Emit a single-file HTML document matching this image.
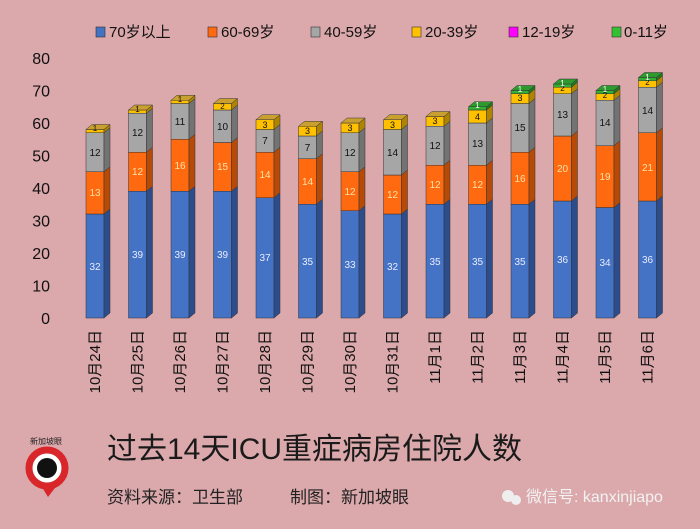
<!DOCTYPE html>
<html><head><meta charset="utf-8"><style>
html,body{margin:0;padding:0;background:#dba8ab}
svg{display:block}
text{font-family:"Liberation Sans","Noto Sans CJK SC",sans-serif}
</style></head><body>
<svg width="700" height="529" viewBox="0 0 700 529" xmlns="http://www.w3.org/2000/svg">
<rect width="700" height="529" fill="#dba8ab"/>
<!-- legend -->
<g font-size="15" fill="#111">
<rect x="96" y="27" width="9" height="10" fill="#4472c4" stroke="#333" stroke-width=".6"/><text x="109" y="37">70岁以上</text>
<rect x="208" y="27" width="9" height="10" fill="#ff6a10" stroke="#333" stroke-width=".6"/><text x="221" y="37">60-69岁</text>
<rect x="311" y="27" width="9" height="10" fill="#a6a6a6" stroke="#333" stroke-width=".6"/><text x="324" y="37">40-59岁</text>
<rect x="412" y="27" width="9" height="10" fill="#ffc000" stroke="#333" stroke-width=".6"/><text x="425" y="37">20-39岁</text>
<rect x="509" y="27" width="9" height="10" fill="#ff00ff" stroke="#333" stroke-width=".6"/><text x="522" y="37">12-19岁</text>
<rect x="612" y="27" width="9" height="10" fill="#33c033" stroke="#333" stroke-width=".6"/><text x="624" y="37">0-11岁</text>
</g>
<!-- y axis labels -->
<g font-size="16" fill="#111" text-anchor="end">
<text x="50" y="324">0</text><text x="50" y="291.5">10</text><text x="50" y="259">20</text><text x="50" y="226.5">30</text><text x="50" y="194">40</text><text x="50" y="161.5">50</text><text x="50" y="129">60</text><text x="50" y="96.5">70</text><text x="50" y="64">80</text>
</g>
<!-- x labels -->
<g font-size="15" fill="#111" text-anchor="end">
<text transform="translate(100,330) rotate(-90)">10月24日</text>
<text transform="translate(142.5,330) rotate(-90)">10月25日</text>
<text transform="translate(185,330) rotate(-90)">10月26日</text>
<text transform="translate(227.5,330) rotate(-90)">10月27日</text>
<text transform="translate(270,330) rotate(-90)">10月28日</text>
<text transform="translate(312.5,330) rotate(-90)">10月29日</text>
<text transform="translate(355,330) rotate(-90)">10月30日</text>
<text transform="translate(397.5,330) rotate(-90)">10月31日</text>
<text transform="translate(440,330) rotate(-90)">11月1日</text>
<text transform="translate(482.5,330) rotate(-90)">11月2日</text>
<text transform="translate(525,330) rotate(-90)">11月3日</text>
<text transform="translate(567.5,330) rotate(-90)">11月4日</text>
<text transform="translate(610,330) rotate(-90)">11月5日</text>
<text transform="translate(652.5,330) rotate(-90)">11月6日</text>
</g>
<!-- bars -->
<g stroke="#333" stroke-width=".5" font-size="10" text-anchor="middle">
<g transform="translate(86,0)">
<rect x="0" y="214" width="18" height="104" fill="#4472c4"/><polygon points="18,318 24,313 24,209 18,214" fill="#2c4c8c"/>
<rect x="0" y="171.75" width="18" height="42.25" fill="#ff6a10"/><polygon points="18,214 24,209 24,166.75 18,171.75" fill="#b84a08"/>
<rect x="0" y="132.75" width="18" height="39" fill="#a6a6a6"/><polygon points="18,171.75 24,166.75 24,127.75 18,132.75" fill="#737373"/>
<rect x="0" y="129.5" width="18" height="3.25" fill="#ffc000"/><polygon points="18,132.75 24,127.75 24,124.5 18,129.5" fill="#b08400"/>
<polygon points="0,129.5 6,124.5 24,124.5 18,129.5" fill="#c9a030"/>
<g stroke="none"><text x="9" y="270" fill="#e8ecff">32</text><text x="9" y="196" fill="#ffe2a8">13</text><text x="9" y="156" fill="#111">12</text><text x="9" y="131" fill="#111" font-size="8">1</text></g>
</g>
<g transform="translate(128.5,0)">
<rect x="0" y="191.25" width="18" height="126.75" fill="#4472c4"/><polygon points="18,318 24,313 24,186.25 18,191.25" fill="#2c4c8c"/>
<rect x="0" y="152.25" width="18" height="39" fill="#ff6a10"/><polygon points="18,191.25 24,186.25 24,147.25 18,152.25" fill="#b84a08"/>
<rect x="0" y="113.25" width="18" height="39" fill="#a6a6a6"/><polygon points="18,152.25 24,147.25 24,108.25 18,113.25" fill="#737373"/>
<rect x="0" y="110" width="18" height="3.25" fill="#ffc000"/><polygon points="18,113.25 24,108.25 24,105 18,110" fill="#b08400"/>
<polygon points="0,110 6,105 24,105 18,110" fill="#c9a030"/>
<g stroke="none"><text x="9" y="258" fill="#e8ecff">39</text><text x="9" y="175" fill="#ffe2a8">12</text><text x="9" y="136" fill="#111">12</text><text x="9" y="112" fill="#111" font-size="8">1</text></g>
</g>
<g transform="translate(171,0)">
<rect x="0" y="191.25" width="18" height="126.75" fill="#4472c4"/><polygon points="18,318 24,313 24,186.25 18,191.25" fill="#2c4c8c"/>
<rect x="0" y="139.25" width="18" height="52" fill="#ff6a10"/><polygon points="18,191.25 24,186.25 24,134.25 18,139.25" fill="#b84a08"/>
<rect x="0" y="103.5" width="18" height="35.75" fill="#a6a6a6"/><polygon points="18,139.25 24,134.25 24,98.5 18,103.5" fill="#737373"/>
<rect x="0" y="100.25" width="18" height="3.25" fill="#ffc000"/><polygon points="18,103.5 24,98.5 24,95.25 18,100.25" fill="#b08400"/>
<polygon points="0,100.25 6,95.25 24,95.25 18,100.25" fill="#c9a030"/>
<g stroke="none"><text x="9" y="258" fill="#e8ecff">39</text><text x="9" y="169" fill="#ffe2a8">16</text><text x="9" y="125" fill="#111">11</text><text x="9" y="102" fill="#111" font-size="8">1</text></g>
</g>
<g transform="translate(213.5,0)">
<rect x="0" y="191.25" width="18" height="126.75" fill="#4472c4"/><polygon points="18,318 24,313 24,186.25 18,191.25" fill="#2c4c8c"/>
<rect x="0" y="142.5" width="18" height="48.75" fill="#ff6a10"/><polygon points="18,191.25 24,186.25 24,137.5 18,142.5" fill="#b84a08"/>
<rect x="0" y="110" width="18" height="32.5" fill="#a6a6a6"/><polygon points="18,142.5 24,137.5 24,105 18,110" fill="#737373"/>
<rect x="0" y="103.5" width="18" height="6.5" fill="#ffc000"/><polygon points="18,110 24,105 24,98.5 18,103.5" fill="#b08400"/>
<polygon points="0,103.5 6,98.5 24,98.5 18,103.5" fill="#c9a030"/>
<g stroke="none"><text x="9" y="258" fill="#e8ecff">39</text><text x="9" y="170" fill="#ffe2a8">15</text><text x="9" y="130" fill="#111">10</text><text x="9" y="109" fill="#111" font-size="8">2</text></g>
</g>
<g transform="translate(256,0)">
<rect x="0" y="197.75" width="18" height="120.25" fill="#4472c4"/><polygon points="18,318 24,313 24,192.75 18,197.75" fill="#2c4c8c"/>
<rect x="0" y="152.25" width="18" height="45.5" fill="#ff6a10"/><polygon points="18,197.75 24,192.75 24,147.25 18,152.25" fill="#b84a08"/>
<rect x="0" y="129.5" width="18" height="22.75" fill="#a6a6a6"/><polygon points="18,152.25 24,147.25 24,124.5 18,129.5" fill="#737373"/>
<rect x="0" y="119.75" width="18" height="9.75" fill="#ffc000"/><polygon points="18,129.5 24,124.5 24,114.75 18,119.75" fill="#b08400"/>
<polygon points="0,119.75 6,114.75 24,114.75 18,119.75" fill="#c9a030"/>
<g stroke="none"><text x="9" y="261" fill="#e8ecff">37</text><text x="9" y="178" fill="#ffe2a8">14</text><text x="9" y="144" fill="#111">7</text><text x="9" y="128" fill="#111" font-size="9">3</text></g>
</g>
<g transform="translate(298.5,0)">
<rect x="0" y="204.25" width="18" height="113.75" fill="#4472c4"/><polygon points="18,318 24,313 24,199.25 18,204.25" fill="#2c4c8c"/>
<rect x="0" y="158.75" width="18" height="45.5" fill="#ff6a10"/><polygon points="18,204.25 24,199.25 24,153.75 18,158.75" fill="#b84a08"/>
<rect x="0" y="136" width="18" height="22.75" fill="#a6a6a6"/><polygon points="18,158.75 24,153.75 24,131 18,136" fill="#737373"/>
<rect x="0" y="126.25" width="18" height="9.75" fill="#ffc000"/><polygon points="18,136 24,131 24,121.25 18,126.25" fill="#b08400"/>
<polygon points="0,126.25 6,121.25 24,121.25 18,126.25" fill="#c9a030"/>
<g stroke="none"><text x="9" y="265" fill="#e8ecff">35</text><text x="9" y="185" fill="#ffe2a8">14</text><text x="9" y="151" fill="#111">7</text><text x="9" y="134" fill="#111" font-size="9">3</text></g>
</g>
<g transform="translate(341,0)">
<rect x="0" y="210.75" width="18" height="107.25" fill="#4472c4"/><polygon points="18,318 24,313 24,205.75 18,210.75" fill="#2c4c8c"/>
<rect x="0" y="171.75" width="18" height="39" fill="#ff6a10"/><polygon points="18,210.75 24,205.75 24,166.75 18,171.75" fill="#b84a08"/>
<rect x="0" y="132.75" width="18" height="39" fill="#a6a6a6"/><polygon points="18,171.75 24,166.75 24,127.75 18,132.75" fill="#737373"/>
<rect x="0" y="123" width="18" height="9.75" fill="#ffc000"/><polygon points="18,132.75 24,127.75 24,118 18,123" fill="#b08400"/>
<polygon points="0,123 6,118 24,118 18,123" fill="#c9a030"/>
<g stroke="none"><text x="9" y="268" fill="#e8ecff">33</text><text x="9" y="195" fill="#ffe2a8">12</text><text x="9" y="156" fill="#111">12</text><text x="9" y="131" fill="#111" font-size="9">3</text></g>
</g>
<g transform="translate(383.5,0)">
<rect x="0" y="214" width="18" height="104" fill="#4472c4"/><polygon points="18,318 24,313 24,209 18,214" fill="#2c4c8c"/>
<rect x="0" y="175" width="18" height="39" fill="#ff6a10"/><polygon points="18,214 24,209 24,170 18,175" fill="#b84a08"/>
<rect x="0" y="129.5" width="18" height="45.5" fill="#a6a6a6"/><polygon points="18,175 24,170 24,124.5 18,129.5" fill="#737373"/>
<rect x="0" y="119.75" width="18" height="9.75" fill="#ffc000"/><polygon points="18,129.5 24,124.5 24,114.75 18,119.75" fill="#b08400"/>
<polygon points="0,119.75 6,114.75 24,114.75 18,119.75" fill="#c9a030"/>
<g stroke="none"><text x="9" y="270" fill="#e8ecff">32</text><text x="9" y="198" fill="#ffe2a8">12</text><text x="9" y="156" fill="#111">14</text><text x="9" y="128" fill="#111" font-size="9">3</text></g>
</g>
<g transform="translate(426,0)">
<rect x="0" y="204.25" width="18" height="113.75" fill="#4472c4"/><polygon points="18,318 24,313 24,199.25 18,204.25" fill="#2c4c8c"/>
<rect x="0" y="165.25" width="18" height="39" fill="#ff6a10"/><polygon points="18,204.25 24,199.25 24,160.25 18,165.25" fill="#b84a08"/>
<rect x="0" y="126.25" width="18" height="39" fill="#a6a6a6"/><polygon points="18,165.25 24,160.25 24,121.25 18,126.25" fill="#737373"/>
<rect x="0" y="116.5" width="18" height="9.75" fill="#ffc000"/><polygon points="18,126.25 24,121.25 24,111.5 18,116.5" fill="#b08400"/>
<polygon points="0,116.5 6,111.5 24,111.5 18,116.5" fill="#c9a030"/>
<g stroke="none"><text x="9" y="265" fill="#e8ecff">35</text><text x="9" y="188" fill="#ffe2a8">12</text><text x="9" y="149" fill="#111">12</text><text x="9" y="124" fill="#111" font-size="9">3</text></g>
</g>
<g transform="translate(468.5,0)">
<rect x="0" y="204.25" width="18" height="113.75" fill="#4472c4"/><polygon points="18,318 24,313 24,199.25 18,204.25" fill="#2c4c8c"/>
<rect x="0" y="165.25" width="18" height="39" fill="#ff6a10"/><polygon points="18,204.25 24,199.25 24,160.25 18,165.25" fill="#b84a08"/>
<rect x="0" y="123" width="18" height="42.25" fill="#a6a6a6"/><polygon points="18,165.25 24,160.25 24,118 18,123" fill="#737373"/>
<rect x="0" y="110" width="18" height="13" fill="#ffc000"/><polygon points="18,123 24,118 24,105 18,110" fill="#b08400"/>
<rect x="0" y="106.75" width="18" height="3.25" fill="#33b033"/><polygon points="18,110 24,105 24,101.75 18,106.75" fill="#1f7a1f"/>
<polygon points="0,106.75 6,101.75 24,101.75 18,106.75" fill="#2e9a2e"/>
<g stroke="none"><text x="9" y="265" fill="#e8ecff">35</text><text x="9" y="188" fill="#ffe2a8">12</text><text x="9" y="147" fill="#111">13</text><text x="9" y="120" fill="#111" font-size="9">4</text><text x="9" y="108" fill="#fff" font-size="8">1</text></g>
</g>
<g transform="translate(511,0)">
<rect x="0" y="204.25" width="18" height="113.75" fill="#4472c4"/><polygon points="18,318 24,313 24,199.25 18,204.25" fill="#2c4c8c"/>
<rect x="0" y="152.25" width="18" height="52" fill="#ff6a10"/><polygon points="18,204.25 24,199.25 24,147.25 18,152.25" fill="#b84a08"/>
<rect x="0" y="103.5" width="18" height="48.75" fill="#a6a6a6"/><polygon points="18,152.25 24,147.25 24,98.5 18,103.5" fill="#737373"/>
<rect x="0" y="93.75" width="18" height="9.75" fill="#ffc000"/><polygon points="18,103.5 24,98.5 24,88.75 18,93.75" fill="#b08400"/>
<rect x="0" y="90.5" width="18" height="3.25" fill="#33b033"/><polygon points="18,93.75 24,88.75 24,85.5 18,90.5" fill="#1f7a1f"/>
<polygon points="0,90.5 6,85.5 24,85.5 18,90.5" fill="#2e9a2e"/>
<g stroke="none"><text x="9" y="265" fill="#e8ecff">35</text><text x="9" y="182" fill="#ffe2a8">16</text><text x="9" y="131" fill="#111">15</text><text x="9" y="101" fill="#111" font-size="9">3</text><text x="9" y="92" fill="#fff" font-size="8">1</text></g>
</g>
<g transform="translate(553.5,0)">
<rect x="0" y="201" width="18" height="117" fill="#4472c4"/><polygon points="18,318 24,313 24,196 18,201" fill="#2c4c8c"/>
<rect x="0" y="136" width="18" height="65" fill="#ff6a10"/><polygon points="18,201 24,196 24,131 18,136" fill="#b84a08"/>
<rect x="0" y="93.75" width="18" height="42.25" fill="#a6a6a6"/><polygon points="18,136 24,131 24,88.75 18,93.75" fill="#737373"/>
<rect x="0" y="87.25" width="18" height="6.5" fill="#ffc000"/><polygon points="18,93.75 24,88.75 24,82.25 18,87.25" fill="#b08400"/>
<rect x="0" y="84" width="18" height="3.25" fill="#33b033"/><polygon points="18,87.25 24,82.25 24,79 18,84" fill="#1f7a1f"/>
<polygon points="0,84 6,79 24,79 18,84" fill="#2e9a2e"/>
<g stroke="none"><text x="9" y="263" fill="#e8ecff">36</text><text x="9" y="172" fill="#ffe2a8">20</text><text x="9" y="118" fill="#111">13</text><text x="9" y="91" fill="#111" font-size="8">2</text><text x="9" y="86" fill="#fff" font-size="8">1</text></g>
</g>
<g transform="translate(596,0)">
<rect x="0" y="207.5" width="18" height="110.5" fill="#4472c4"/><polygon points="18,318 24,313 24,202.5 18,207.5" fill="#2c4c8c"/>
<rect x="0" y="145.75" width="18" height="61.75" fill="#ff6a10"/><polygon points="18,207.5 24,202.5 24,140.75 18,145.75" fill="#b84a08"/>
<rect x="0" y="100.25" width="18" height="45.5" fill="#a6a6a6"/><polygon points="18,145.75 24,140.75 24,95.25 18,100.25" fill="#737373"/>
<rect x="0" y="93.75" width="18" height="6.5" fill="#ffc000"/><polygon points="18,100.25 24,95.25 24,88.75 18,93.75" fill="#b08400"/>
<rect x="0" y="90.5" width="18" height="3.25" fill="#33b033"/><polygon points="18,93.75 24,88.75 24,85.5 18,90.5" fill="#1f7a1f"/>
<polygon points="0,90.5 6,85.5 24,85.5 18,90.5" fill="#2e9a2e"/>
<g stroke="none"><text x="9" y="266" fill="#e8ecff">34</text><text x="9" y="180" fill="#ffe2a8">19</text><text x="9" y="126" fill="#111">14</text><text x="9" y="98" fill="#111" font-size="8">2</text><text x="9" y="92" fill="#fff" font-size="8">1</text></g>
</g>
<g transform="translate(638.5,0)">
<rect x="0" y="201" width="18" height="117" fill="#4472c4"/><polygon points="18,318 24,313 24,196 18,201" fill="#2c4c8c"/>
<rect x="0" y="132.75" width="18" height="68.25" fill="#ff6a10"/><polygon points="18,201 24,196 24,127.75 18,132.75" fill="#b84a08"/>
<rect x="0" y="87.25" width="18" height="45.5" fill="#a6a6a6"/><polygon points="18,132.75 24,127.75 24,82.25 18,87.25" fill="#737373"/>
<rect x="0" y="80.75" width="18" height="6.5" fill="#ffc000"/><polygon points="18,87.25 24,82.25 24,75.75 18,80.75" fill="#b08400"/>
<rect x="0" y="77.5" width="18" height="3.25" fill="#33b033"/><polygon points="18,80.75 24,75.75 24,72.5 18,77.5" fill="#1f7a1f"/>
<polygon points="0,77.5 6,72.5 24,72.5 18,77.5" fill="#2e9a2e"/>
<g stroke="none"><text x="9" y="263" fill="#e8ecff">36</text><text x="9" y="171" fill="#ffe2a8">21</text><text x="9" y="114" fill="#111">14</text><text x="9" y="85" fill="#111" font-size="8">2</text><text x="9" y="80" fill="#fff" font-size="8">1</text></g>
</g>
</g>
<!-- logo -->
<text x="30" y="444" font-size="8" fill="#222">新加坡眼</text>
<circle cx="47" cy="468" r="18" fill="#fff" stroke="#d8262a" stroke-width="7"/>
<circle cx="47" cy="468" r="10" fill="#111"/>
<polygon points="40,484 58,484 48,497" fill="#d8262a"/>
<!-- title -->
<text x="107" y="459" font-size="30" fill="#1a1a1a">过去14天ICU重症病房住院人数</text>
<text x="107" y="503" font-size="17" fill="#222">资料来源：卫生部</text>
<text x="290" y="503" font-size="17" fill="#222">制图：新加坡眼</text>
<circle cx="508" cy="496" r="6" fill="#eee"/><circle cx="516" cy="500" r="5" fill="#eee"/>
<text x="526" y="502" font-size="16" fill="#f2f2f2">微信号: kanxinjiapo</text>
</svg>
</body></html>
